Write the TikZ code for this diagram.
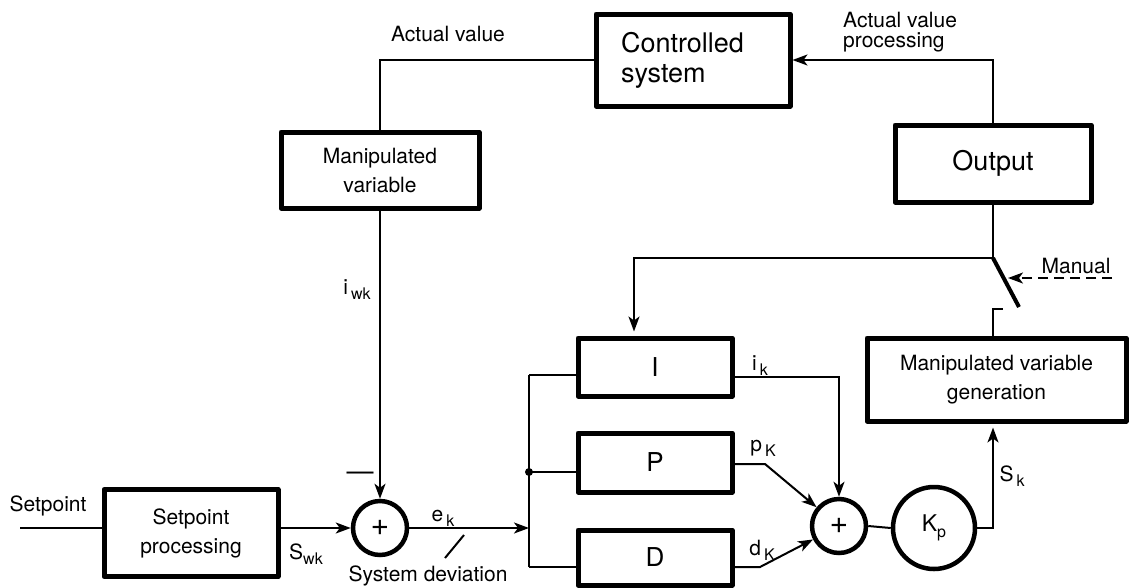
\documentclass[tikz,border=0pt]{standalone}
\usepackage{fontspec}
\setmainfont{TeX Gyre Heros}
\usetikzlibrary{arrows.meta}
\newcommand{\lblsize}{\fontsize{21}{24}\selectfont}
\newcommand{\subsz}{\fontsize{16}{16}\selectfont}
\newcommand{\sublbl}[2]{#1\hspace{3pt}\raisebox{-5pt}{\subsz #2}}
\begin{document}
\begin{tikzpicture}[x=1pt,y=-1pt,
  blk/.style={draw, line width=5pt, line join=round, rectangle, inner sep=0pt, font=\fontsize{21}{29}\selectfont, align=center},
  bigblk/.style={blk, font=\fontsize{27}{30}\selectfont},
  pidblk/.style={blk, font=\fontsize{26}{26}\selectfont, minimum width=154pt},
  sumc/.style={draw, circle, line width=4.5pt, minimum size=54pt, inner sep=0pt, font=\fontsize{32}{32}\selectfont},
  conn/.style={line width=2pt},
  arr/.style={conn, -{Stealth[length=15pt,width=11pt,inset=4pt]}},
  lbl/.style={inner sep=0pt, font=\lblsize},
]
\useasboundingbox (0,0) rectangle (1129,587);

% blocks
\node[bigblk, minimum width=194pt, minimum height=92pt, text width=144pt, align=left] (cs) at (693,60) {Controlled\\system};
\node[bigblk, minimum width=196pt, minimum height=77pt] (out) at (993,163.5) {Output};
\node[blk, minimum width=198pt, minimum height=76pt] (mv) at (380,170) {Manipulated\\variable};
\node[blk, minimum width=174pt, minimum height=87pt] (sp) at (191,533) {Setpoint\\processing};
\node[sumc] (s1) at (380,528) {+};
\node[pidblk, minimum height=58pt] (I) at (655,367) {I};
\node[pidblk, minimum height=59pt] (P) at (655,462.5) {P};
\node[pidblk, minimum height=55pt] (D) at (655,557.5) {D};
\node[sumc] (s2) at (839,526) {+};
\node[draw, circle, line width=4.5pt, minimum size=82pt, inner sep=0pt, font=\fontsize{23}{23}\selectfont] (kp) at (934,528) {K\raisebox{-6pt}{\subsz p}};
\node[blk, minimum width=259pt, minimum height=83pt] (mvg) at (996.5,379.5) {Manipulated variable\\generation};

% coordinates
\coordinate (spin) at (20,528);
\coordinate (busin) at (529,528);
\coordinate (bustop) at (529,375);
\coordinate (busdot) at (529,472);
\coordinate (busbot) at (529,567);
\coordinate (iout) at (732,377);
\coordinate (ibend) at (839,377);
\coordinate (pout) at (732,464);
\coordinate (pbend) at (765,464);
\coordinate (dout) at (732,567);
\coordinate (dbend) at (760,567);
\coordinate (kpbend) at (993,528);
\coordinate (piv) at (993,258);
\coordinate (blade) at (1019,307);
\coordinate (iarr) at (634,258);
\coordinate (man) at (1112,278);
\coordinate (mantip) at (1008,278);
\coordinate (sl1) at (445,558);
\coordinate (sl2) at (464,535);

% connectors
\draw[conn] (spin) -- (sp.west |- spin);
\draw[arr] (sp.east |- spin) -- (s1.west);
\draw[arr] (mv.south) -- (s1.north);
\draw[arr] (s1.east) -- (busin);
\draw[conn] (sl1) -- (sl2);
\draw[conn] (bustop) -- (busbot);
\fill (busdot) circle (4pt);
\draw[conn] (bustop) -- (I.west |- bustop);
\draw[conn] (busdot) -- (P.west |- busdot);
\draw[conn] (busbot) -- (D.west |- busbot);
\draw[arr] (iout) -- (ibend) -- (s2.north);
\draw[arr] (pout) -- (pbend) -- (s2);
\draw[arr] (dout) -- (dbend) -- (s2);
\draw[conn] (s2.east) -- (kp.west);
\draw[arr, shorten >=4pt] (kp.east) -- (kpbend) -- (kpbend |- mvg.south);
\draw[arr, shorten >=4pt] (out.south -| piv) -- (piv) -- (iarr) -- (iarr |- I.north);
\draw[line width=4pt] (piv) -- (blade);
\draw[conn] (mvg.north -| piv) -- ++(0,-27) -- ++(10,0);
\draw[arr, dash pattern=on 10pt off 6pt] (man) -- (mantip);
\draw[arr] (out.north) -- (out.north |- cs.east) -- (cs.east);
\draw[conn] (cs.west) -- (cs.west -| mv.north) -- (mv.north);

% labels
\node[lbl] (lav) at (448,34) {Actual value};
\node[lbl, align=left, anchor=west, font=\fontsize{21}{20}\selectfont] (lavp) at (843,32) {Actual value\\processing};
\node[lbl] (lsp) at (48,506) {Setpoint};
\node[lbl] (lswk) at (306,554) {S\raisebox{-5pt}{\subsz wk}};
\node[lbl, font=\fontsize{27}{27}\selectfont] (lminus) at (360,476) {—};
\node[lbl] (liwk) at (357,290) {\sublbl{i}{wk}};
\node[lbl] (lek) at (443,518) {\sublbl{e}{k}};
\node[lbl] (lsd) at (428,576) {System deviation};
\node[lbl] (lik) at (760,366) {\sublbl{i}{k}};
\node[lbl] (lpk) at (763,448) {\sublbl{p}{K}};
\node[lbl] (ldk) at (762,550) {\sublbl{d}{K}};
\node[lbl] (lsk) at (1012,476) {\sublbl{S}{k}};
\node[lbl, anchor=base] (lman) at (1076,273) {Manual};
\end{tikzpicture}
\end{document}
